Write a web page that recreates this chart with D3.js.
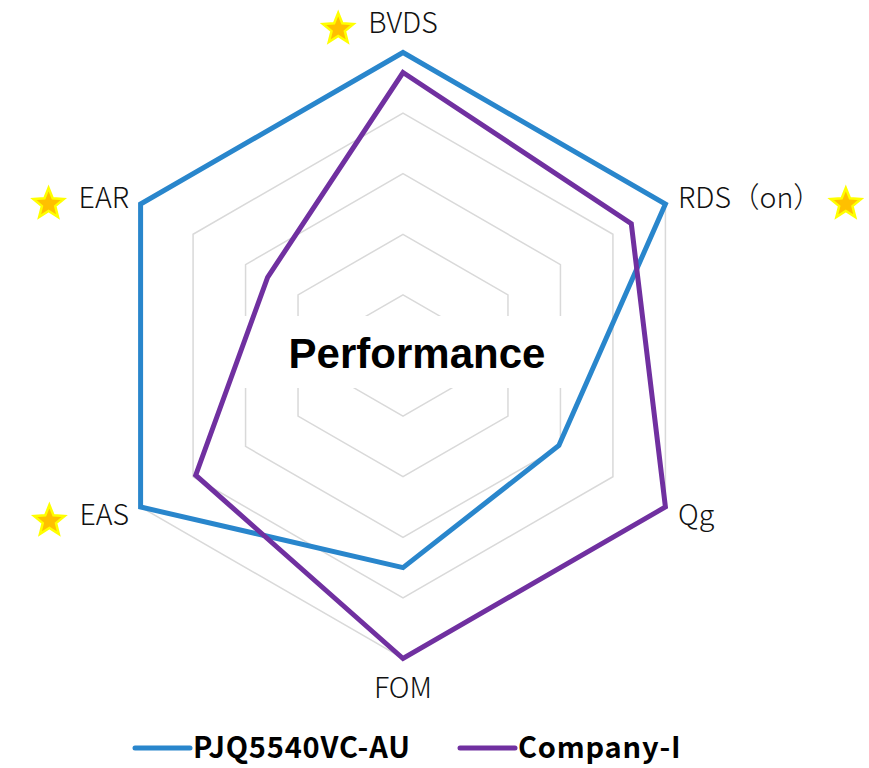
<!DOCTYPE html>
<html>
<head>
<meta charset="utf-8">
<script src="https://cdn.jsdelivr.net/npm/d3@7/dist/d3.min.js"></script>
<style>
  html, body { margin: 0; padding: 0; background: #fff; }
  svg { display: block; }
</style>
</head>
<body>
<svg id="chart" width="869" height="768"></svg>
<script>
// Axes of the radar, clockwise from the top
const axes = ["BVDS", "RDS（on）", "Qg", "FOM", "EAS", "EAR"];
// Axes flagged with a star
const starred = [true, true, false, false, true, true];
// Series scores on a 0–5 scale
const pjqValues = [5, 5, 2.97, 3.5, 5, 5];
const companyValues = [4.67, 4.35, 5, 5, 3.95, 2.58];
const seriesNames = ["PJQ5540VC-AU", "Company-I"];
const seriesColors = ["#2986CC", "#7030A0"];
const gridLevels = [1, 2, 3, 4, 5];

const svg = d3.select("#chart");
const cx = 403, cy = 355.5, R = 303;
const r = d3.scaleLinear().domain([0, 5]).range([0, R]);
const angle = d3.scaleLinear().domain([0, axes.length]).range([0, 2 * Math.PI]);

function pt(i, v) {
  const a = angle(i);
  return [cx + r(v) * Math.sin(a), cy - r(v) * Math.cos(a)];
}

const line = d3.line().curve(d3.curveLinearClosed);

// Grid hexagons
svg.append("g").selectAll("path").data(gridLevels).join("path")
  .attr("d", lv => line(axes.map((_, i) => pt(i, lv))))
  .attr("fill", "none")
  .attr("stroke", "#d9d9d9")
  .attr("stroke-width", 1.5);

// Title with white backing
const title = svg.append("g");
title.append("rect")
  .attr("x", 231).attr("y", 316).attr("width", 344).attr("height", 72)
  .attr("fill", "#fff");
title.append("text")
  .attr("x", 417).attr("y", 368)
  .attr("text-anchor", "middle")
  .attr("font-family", "'Liberation Sans', Arial, sans-serif")
  .attr("font-weight", "bold")
  .attr("font-size", 42)
  .attr("fill", "#000")
  .text("Performance");

// Series polygons
const series = [pjqValues, companyValues];
svg.append("g").selectAll("path").data(series).join("path")
  .attr("d", vals => line(vals.map((v, i) => pt(i, v))))
  .attr("fill", "none")
  .attr("stroke", (d, i) => seriesColors[i])
  .attr("stroke-width", 5)
  .attr("stroke-linejoin", "miter");

// Star shape
function starPath(x, y, outer, inner) {
  const p = [];
  for (let k = 0; k < 10; k++) {
    const rr = k % 2 === 0 ? outer : inner;
    const a = Math.PI / 5 * k;
    p.push([x + rr * Math.sin(a), y - rr * Math.cos(a)]);
  }
  return "M" + p.map(q => q.join(",")).join("L") + "Z";
}

// Axis labels
const labelFont = "'Noto Sans CJK SC', 'Noto Sans', sans-serif";
const labelPos = [
  { x: 403, y: 23, anchor: "middle" },
  { x: 678, y: 198, anchor: "start" },
  { x: 678, y: 515, anchor: "start" },
  { x: 403, y: 688, anchor: "middle" },
  { x: 129, y: 515, anchor: "end" },
  { x: 129, y: 198, anchor: "end" }
];
const labels = svg.append("g");
axes.forEach((name, i) => {
  const lp = labelPos[i];
  const t = labels.append("text")
    .attr("x", lp.x).attr("y", lp.y)
    .attr("dy", "0.35em")
    .attr("text-anchor", lp.anchor)
    .attr("font-family", labelFont)
    .attr("font-weight", 300)
    .attr("font-size", 28.5)
    .attr("fill", "#111")
    .text(name);
  if (starred[i]) {
    const bb = t.node().getBBox();
    const sx = lp.anchor === "start" ? bb.x + bb.width + 24 : bb.x - 30;
    labels.append("path")
      .attr("d", starPath(sx, lp.y + 6, 16, 7))
      .attr("fill", "#FFC000")
      .attr("stroke", "#FFFF00")
      .attr("stroke-width", 2.5)
      .attr("stroke-linejoin", "miter");
  }
});

// Legend
const legend = svg.append("g");
const legendItems = [
  { x1: 135, x2: 190, tx: 193 },
  { x1: 460, x2: 515, tx: 518 }
];
seriesNames.forEach((name, i) => {
  const it = legendItems[i];
  legend.append("line")
    .attr("x1", it.x1).attr("x2", it.x2)
    .attr("y1", 748).attr("y2", 748)
    .attr("stroke", seriesColors[i])
    .attr("stroke-width", 5)
    .attr("stroke-linecap", "round");
  legend.append("text")
    .attr("x", it.tx).attr("y", 748)
    .attr("dy", "0.35em")
    .attr("font-family", labelFont)
    .attr("font-weight", "bold")
    .attr("font-size", 29)
    .attr("letter-spacing", 0.8)
    .attr("fill", "#000")
    .text(name);
});
</script>
</body>
</html>
